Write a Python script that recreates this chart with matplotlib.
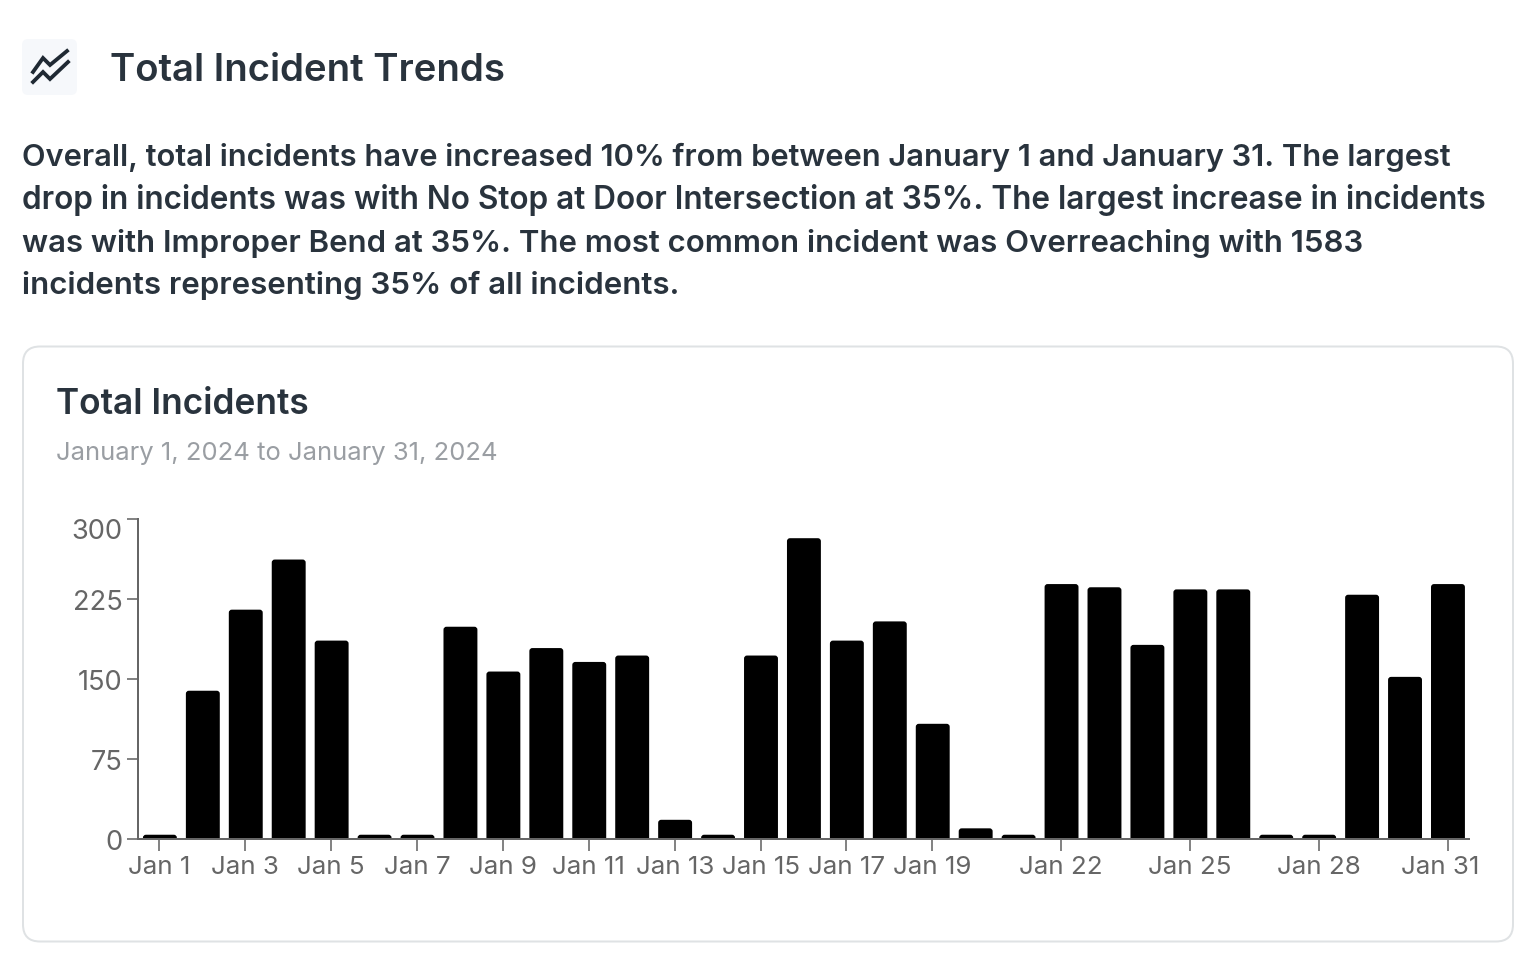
import matplotlib
matplotlib.use("Agg")
import matplotlib.pyplot as plt
from matplotlib.patches import FancyBboxPatch
from matplotlib.transforms import ScaledTranslation

W, H = 1534, 968
DPI = 100
PX = 72 / DPI

days = list(range(1, 32))
incidents = [4, 139, 215, 262, 186, 4, 4, 199, 157, 179, 166, 172, 18, 4, 172,
             282, 186, 204, 108, 10, 4, 239, 236, 182, 234, 234, 4, 4, 229, 152, 239]
label_days = [1, 3, 5, 7, 9, 11, 13, 15, 17, 19, 22, 25, 28, 31]
y_ticks = [0, 75, 150, 225, 300]
heading = "Total Incident Trends"
summary = [
    "Overall, total incidents have increased 10% from between January 1 and January 31. The largest",
    "drop in incidents was with No Stop at Door Intersection at 35%. The largest increase in incidents",
    "was with Improper Bend at 35%. The most common incident was Overreaching with 1583",
    "incidents representing 35% of all incidents.",
]
card_title = "Total Incidents"
card_subtitle = "January 1, 2024 to January 31, 2024"

plt.rcParams["font.family"] = ["Inter", "DejaVu Sans"]
fig = plt.figure(figsize=(W / DPI, H / DPI), dpi=DPI, facecolor="white")

# page layer in pixel coordinates
bg = fig.add_axes([0, 0, 1, 1])
bg.set_xlim(0, W)
bg.set_ylim(H, 0)
bg.axis("off")

bg.add_patch(FancyBboxPatch((23, 346.5), 1490, 595, boxstyle="round,pad=0,rounding_size=17",
                            fc="white", ec="#dfe2e4", lw=2 * PX))
bg.add_patch(FancyBboxPatch((22, 39), 55, 56, boxstyle="round,pad=0,rounding_size=6",
                            fc="#f6f8fb", ec="none"))
bg.plot([33, 43, 50, 67], [72, 58, 65, 51], color="#1f2933", lw=3.8 * PX, solid_joinstyle="miter")
bg.plot([33, 43, 50, 68], [82, 72, 79, 62], color="#1f2933", lw=3.8 * PX, solid_joinstyle="miter")

dark = "#29333d"
bg.text(109.5, 81, heading, fontsize=27.6, fontweight="semibold", color=dark, va="baseline")
for line, y, size in zip(summary, [166.5, 208.5, 251.5, 294.5], [22.2, 22.7, 22.4, 22.5]):
    bg.text(22.5, y, line, fontsize=size, fontweight="semibold", color=dark, va="baseline")
bg.text(55.5, 413.5, card_title, fontsize=25.4, fontweight="semibold", color=dark, va="baseline")
bg.text(55.5, 460, card_subtitle, fontsize=18.45, color="#9a9ea3", va="baseline")

# chart
L, R, T, B = 138, 1469, 519, 839
ax = fig.add_axes([L / W, 1 - B / H, (R - L) / W, (B - T) / H])
ax.patch.set_alpha(0)
ax.set_xlim(-0.5, len(days) - 0.5)
ax.set_ylim(0, 300)

x_unit = (R - L) / len(days)
y_unit = (B - T) / 300
radius_px = 3.0
for i, v in enumerate(incidents):
    ax.add_patch(FancyBboxPatch((i - 0.385, -10), 0.79, v + 10,
                                boxstyle=f"round,pad=0,rounding_size={radius_px / x_unit}",
                                mutation_aspect=x_unit / y_unit,
                                fc="black", ec="none", clip_on=True))

for s in ("top", "right"):
    ax.spines[s].set_visible(False)
for s in ("left", "bottom"):
    ax.spines[s].set_color("#666666")
    ax.spines[s].set_linewidth(2 * PX)

grey = "#666666"
ax.set_yticks(y_ticks, [str(v) for v in y_ticks])
ax.set_xticks([d - 1 for d in label_days], [f"Jan {d}" for d in label_days])
ax.tick_params(axis="y", length=11 * PX, width=1.6 * PX, color=grey, labelcolor=grey,
               labelsize=19.6, pad=4.5 * PX)
ax.tick_params(axis="x", length=12 * PX, width=1.6 * PX, color=grey, labelcolor=grey,
               labelsize=18.7, pad=5.5 * PX)

# edge labels are pushed inward in the reference
for lab, v in zip(ax.get_yticklabels(), y_ticks):
    dy = -10 if v == 300 else -1
    lab.set_transform(lab.get_transform() + ScaledTranslation(0, dy / DPI, fig.dpi_scale_trans))
for lab, d in zip(ax.get_xticklabels(), label_days):
    if d == 31:
        lab.set_transform(lab.get_transform() + ScaledTranslation(-7 / DPI, 0, fig.dpi_scale_trans))

fig.savefig("out.png", dpi=DPI, facecolor="white")
